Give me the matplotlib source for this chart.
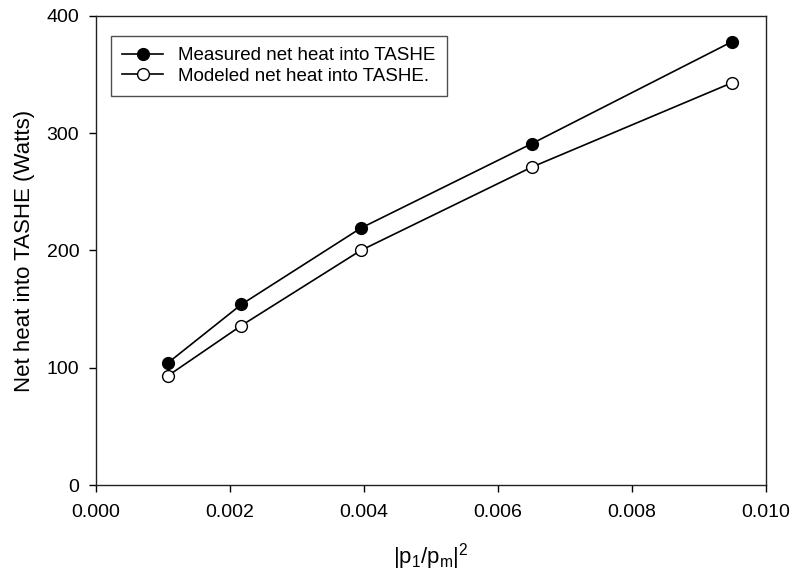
import matplotlib
matplotlib.use("Agg")
import matplotlib.pyplot as plt

plt.rcParams['font.family'] = ['Liberation Sans', 'DejaVu Sans']

# pressure amplitude squared vs net heat into TASHE
x = [0.00107, 0.00217, 0.00395, 0.00650, 0.00949]
measured = [104, 154, 219, 291, 378]
modeled = [93, 136, 200, 271, 343]

fig = plt.figure(figsize=(7.91, 5.74), dpi=100)
ax = fig.add_axes([96 / 791, 89 / 574, 670 / 791, 469 / 574])

ax.plot(x, measured, color='black', lw=1.2, marker='o', ms=8.5,
        mfc='black', mec='black', label='Measured net heat into TASHE')
ax.plot(x, modeled, color='black', lw=1.2, marker='o', ms=8.5,
        mfc='white', mec='black', mew=1.0, label='Modeled net heat into TASHE.')

ax.set_xlim(0, 0.010)
ax.set_ylim(0, 400)
ax.set_xticks([0.000, 0.002, 0.004, 0.006, 0.008, 0.010])
ax.set_xticklabels(['0.000', '0.002', '0.004', '0.006', '0.008', '0.010'])
ax.set_yticks([0, 100, 200, 300, 400])
ax.tick_params(direction='out', length=5, width=1, labelsize=14,
               top=False, right=False)
ax.tick_params(axis='x', pad=9)
ax.tick_params(axis='y', pad=7)

ax.set_xlabel(r'$\mathregular{|p_1/p_m|^2}$', fontsize=16, labelpad=14)
ax.set_ylabel('Net heat into TASHE (Watts)', fontsize=16, labelpad=8)

for s in ax.spines.values():
    s.set_linewidth(1.0)
    s.set_color('#222222')

leg = ax.legend(loc='upper left', bbox_to_anchor=(0.008, 0.978), fontsize=13.5,
                frameon=True, fancybox=False, edgecolor='#222222',
                borderpad=0.6, handlelength=2.2, labelspacing=0.2)
leg.get_frame().set_linewidth(1.0)

fig.savefig('out.png', dpi=100)
